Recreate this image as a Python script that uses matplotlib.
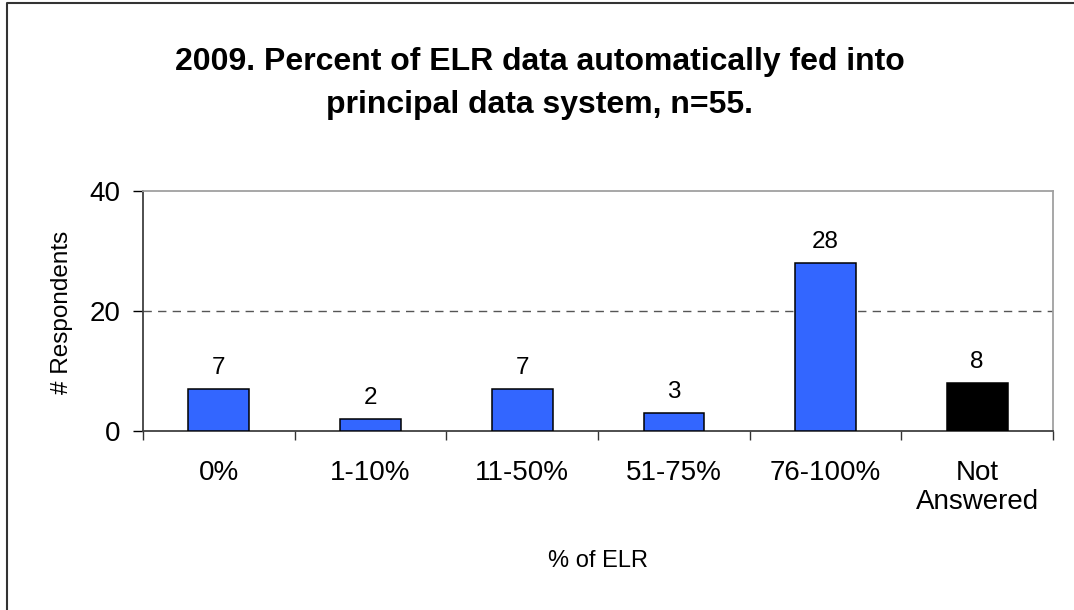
import matplotlib.pyplot as plt
from matplotlib.lines import Line2D

categories = ['0%', '1-10%', '11-50%', '51-75%', '76-100%', 'Not\nAnswered']
counts = [7, 2, 7, 3, 28, 8]
bar_colors = ['#3366FF', '#3366FF', '#3366FF', '#3366FF', '#3366FF', '#000000']
title_lines = ['2009. Percent of ELR data automatically fed into', 'principal data system, n=55.']

plt.rcParams['font.family'] = ['Liberation Sans', 'DejaVu Sans']

W, H = 1074, 610
fig = plt.figure(figsize=(W / 100, H / 100), dpi=100)
ax = fig.add_axes([143 / W, 1 - 431 / H, (1053 - 143) / W, (431 - 191) / H])

x = list(range(len(categories)))
ax.bar(x, counts, width=0.4, color=bar_colors, edgecolor='black', linewidth=1.1, zorder=3)
for xi, c in zip(x, counts):
    ax.annotate(str(c), (xi, c), xytext=(0, 11), textcoords='offset points',
                ha='center', va='baseline', fontsize=17.5)

ax.set_xlim(-0.5, len(categories) - 0.5)
ax.set_ylim(0, 40)
ax.set_yticks([0, 20, 40])
ax.tick_params(axis='y', labelsize=20, length=7, width=1, direction='out', pad=9)
ax.axhline(20, color='#555555', linestyle=(0, (6, 4.5)), linewidth=1, zorder=1)

# ticks sit on the category boundaries, labels in between
ax.set_xticks([i - 0.5 for i in range(len(categories) + 1)])
ax.set_xticklabels([])
ax.tick_params(axis='x', length=6.5, width=1, direction='out', colors='#333333')
ax.set_xticks(x, minor=True)
ax.set_xticklabels(categories, minor=True, fontsize=20, va='top', linespacing=1.15)
ax.tick_params(axis='x', which='minor', length=0, pad=21)

for s in ['left', 'bottom']:
    ax.spines[s].set_color('#404040')
    ax.spines[s].set_linewidth(1.3)
for s in ['top', 'right']:
    ax.spines[s].set_color('#a0a0a0')
    ax.spines[s].set_linewidth(1.3)

fig.text(62 / W, 1 - 312 / H, '# Respondents', rotation=90, ha='center', va='center', fontsize=17.5)
fig.text(598 / W, 1 - 567 / H, '% of ELR', ha='center', va='baseline', fontsize=17)

fig.text(540 / W, 1 - 70 / H, title_lines[0], ha='center', va='baseline', fontsize=23, fontweight='bold')
fig.text(540 / W, 1 - 113 / H, title_lines[1], ha='center', va='baseline', fontsize=23, fontweight='bold')

# outer frame (left and top edges only are visible)
fig.add_artist(Line2D([6.5 / W, 6.5 / W, 1.0], [0.0, 1 - 3 / H, 1 - 3 / H],
                      transform=fig.transFigure, color='#333333', linewidth=1.5))

fig.savefig('out.png', dpi=100)
